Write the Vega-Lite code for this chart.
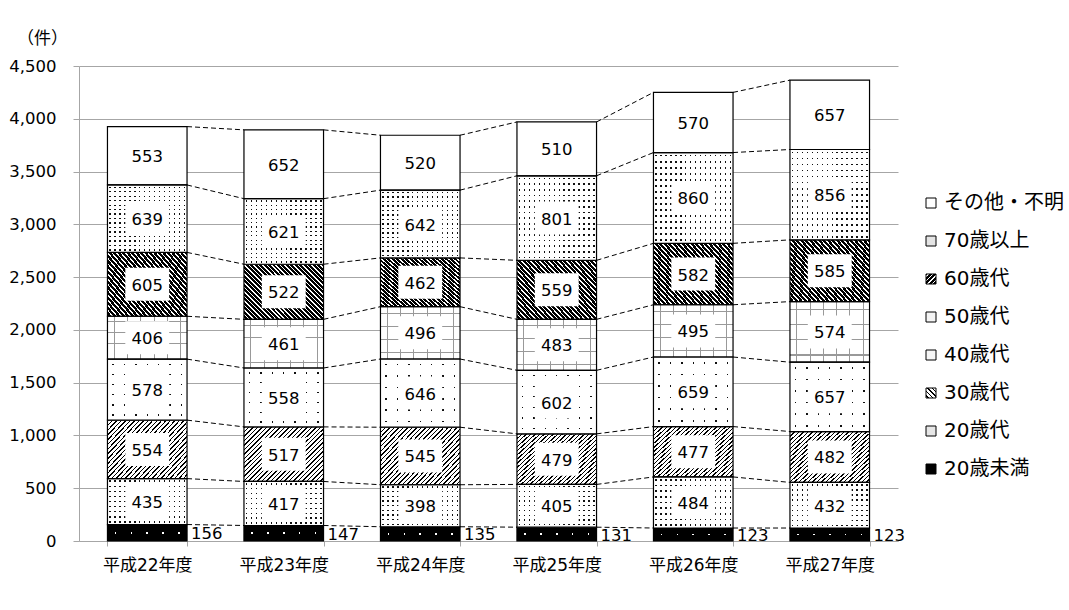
{
  "$schema": "https://vega.github.io/schema/vega-lite/v6.json",
  "width": 819,
  "height": 475,
  "autosize": {"type": "none"},
  "padding": {"left": 79, "top": 66, "right": 171, "bottom": 69},
  "background": "white",
  "config": {
    "font": "DejaVu Sans, Noto Sans CJK JP",
    "view": {"stroke": null},
    "axis": {"labelColor": "black", "titleColor": "black"}
  },
  "params": [
    {"name": "p30", "expr": "{gradient:'linear',x1:0,y1:0,x2:1.145,y2:0.79,stops:[{offset:0,color:'#000'},{offset:0.011,color:'#000'},{offset:0.011,color:'#fff'},{offset:0.0333,color:'#fff'},{offset:0.0333,color:'#000'},{offset:0.0443,color:'#000'},{offset:0.0443,color:'#fff'},{offset:0.0667,color:'#fff'},{offset:0.0667,color:'#000'},{offset:0.0777,color:'#000'},{offset:0.0777,color:'#fff'},{offset:0.1,color:'#fff'},{offset:0.1,color:'#000'},{offset:0.111,color:'#000'},{offset:0.111,color:'#fff'},{offset:0.1333,color:'#fff'},{offset:0.1333,color:'#000'},{offset:0.1443,color:'#000'},{offset:0.1443,color:'#fff'},{offset:0.1667,color:'#fff'},{offset:0.1667,color:'#000'},{offset:0.1777,color:'#000'},{offset:0.1777,color:'#fff'},{offset:0.2,color:'#fff'},{offset:0.2,color:'#000'},{offset:0.211,color:'#000'},{offset:0.211,color:'#fff'},{offset:0.2333,color:'#fff'},{offset:0.2333,color:'#000'},{offset:0.2443,color:'#000'},{offset:0.2443,color:'#fff'},{offset:0.2667,color:'#fff'},{offset:0.2667,color:'#000'},{offset:0.2777,color:'#000'},{offset:0.2777,color:'#fff'},{offset:0.3,color:'#fff'},{offset:0.3,color:'#000'},{offset:0.311,color:'#000'},{offset:0.311,color:'#fff'},{offset:0.3333,color:'#fff'},{offset:0.3333,color:'#000'},{offset:0.3443,color:'#000'},{offset:0.3443,color:'#fff'},{offset:0.3667,color:'#fff'},{offset:0.3667,color:'#000'},{offset:0.3777,color:'#000'},{offset:0.3777,color:'#fff'},{offset:0.4,color:'#fff'},{offset:0.4,color:'#000'},{offset:0.411,color:'#000'},{offset:0.411,color:'#fff'},{offset:0.4333,color:'#fff'},{offset:0.4333,color:'#000'},{offset:0.4443,color:'#000'},{offset:0.4443,color:'#fff'},{offset:0.4667,color:'#fff'},{offset:0.4667,color:'#000'},{offset:0.4777,color:'#000'},{offset:0.4777,color:'#fff'},{offset:0.5,color:'#fff'},{offset:0.5,color:'#000'},{offset:0.511,color:'#000'},{offset:0.511,color:'#fff'},{offset:0.5333,color:'#fff'},{offset:0.5333,color:'#000'},{offset:0.5443,color:'#000'},{offset:0.5443,color:'#fff'},{offset:0.5667,color:'#fff'},{offset:0.5667,color:'#000'},{offset:0.5777,color:'#000'},{offset:0.5777,color:'#fff'},{offset:0.6,color:'#fff'},{offset:0.6,color:'#000'},{offset:0.611,color:'#000'},{offset:0.611,color:'#fff'},{offset:0.6333,color:'#fff'},{offset:0.6333,color:'#000'},{offset:0.6443,color:'#000'},{offset:0.6443,color:'#fff'},{offset:0.6667,color:'#fff'},{offset:0.6667,color:'#000'},{offset:0.6777,color:'#000'},{offset:0.6777,color:'#fff'},{offset:0.7,color:'#fff'},{offset:0.7,color:'#000'},{offset:0.711,color:'#000'},{offset:0.711,color:'#fff'},{offset:0.7333,color:'#fff'},{offset:0.7333,color:'#000'},{offset:0.7443,color:'#000'},{offset:0.7443,color:'#fff'},{offset:0.7667,color:'#fff'},{offset:0.7667,color:'#000'},{offset:0.7777,color:'#000'},{offset:0.7777,color:'#fff'},{offset:0.8,color:'#fff'},{offset:0.8,color:'#000'},{offset:0.811,color:'#000'},{offset:0.811,color:'#fff'},{offset:0.8333,color:'#fff'},{offset:0.8333,color:'#000'},{offset:0.8443,color:'#000'},{offset:0.8443,color:'#fff'},{offset:0.8667,color:'#fff'},{offset:0.8667,color:'#000'},{offset:0.8777,color:'#000'},{offset:0.8777,color:'#fff'},{offset:0.9,color:'#fff'},{offset:0.9,color:'#000'},{offset:0.911,color:'#000'},{offset:0.911,color:'#fff'},{offset:0.9333,color:'#fff'},{offset:0.9333,color:'#000'},{offset:0.9443,color:'#000'},{offset:0.9443,color:'#fff'},{offset:0.9667,color:'#fff'},{offset:0.9667,color:'#000'},{offset:0.9777,color:'#000'},{offset:0.9777,color:'#fff'},{offset:1,color:'#fff'}]}"},
    {"name": "p60", "expr": "{gradient:'linear',x1:1,y1:0,x2:-0.145,y2:0.79,stops:[{offset:0,color:'#000'},{offset:0.022,color:'#000'},{offset:0.022,color:'#fff'},{offset:0.0333,color:'#fff'},{offset:0.0333,color:'#000'},{offset:0.0553,color:'#000'},{offset:0.0553,color:'#fff'},{offset:0.0667,color:'#fff'},{offset:0.0667,color:'#000'},{offset:0.0887,color:'#000'},{offset:0.0887,color:'#fff'},{offset:0.1,color:'#fff'},{offset:0.1,color:'#000'},{offset:0.122,color:'#000'},{offset:0.122,color:'#fff'},{offset:0.1333,color:'#fff'},{offset:0.1333,color:'#000'},{offset:0.1553,color:'#000'},{offset:0.1553,color:'#fff'},{offset:0.1667,color:'#fff'},{offset:0.1667,color:'#000'},{offset:0.1887,color:'#000'},{offset:0.1887,color:'#fff'},{offset:0.2,color:'#fff'},{offset:0.2,color:'#000'},{offset:0.222,color:'#000'},{offset:0.222,color:'#fff'},{offset:0.2333,color:'#fff'},{offset:0.2333,color:'#000'},{offset:0.2553,color:'#000'},{offset:0.2553,color:'#fff'},{offset:0.2667,color:'#fff'},{offset:0.2667,color:'#000'},{offset:0.2887,color:'#000'},{offset:0.2887,color:'#fff'},{offset:0.3,color:'#fff'},{offset:0.3,color:'#000'},{offset:0.322,color:'#000'},{offset:0.322,color:'#fff'},{offset:0.3333,color:'#fff'},{offset:0.3333,color:'#000'},{offset:0.3553,color:'#000'},{offset:0.3553,color:'#fff'},{offset:0.3667,color:'#fff'},{offset:0.3667,color:'#000'},{offset:0.3887,color:'#000'},{offset:0.3887,color:'#fff'},{offset:0.4,color:'#fff'},{offset:0.4,color:'#000'},{offset:0.422,color:'#000'},{offset:0.422,color:'#fff'},{offset:0.4333,color:'#fff'},{offset:0.4333,color:'#000'},{offset:0.4553,color:'#000'},{offset:0.4553,color:'#fff'},{offset:0.4667,color:'#fff'},{offset:0.4667,color:'#000'},{offset:0.4887,color:'#000'},{offset:0.4887,color:'#fff'},{offset:0.5,color:'#fff'},{offset:0.5,color:'#000'},{offset:0.522,color:'#000'},{offset:0.522,color:'#fff'},{offset:0.5333,color:'#fff'},{offset:0.5333,color:'#000'},{offset:0.5553,color:'#000'},{offset:0.5553,color:'#fff'},{offset:0.5667,color:'#fff'},{offset:0.5667,color:'#000'},{offset:0.5887,color:'#000'},{offset:0.5887,color:'#fff'},{offset:0.6,color:'#fff'},{offset:0.6,color:'#000'},{offset:0.622,color:'#000'},{offset:0.622,color:'#fff'},{offset:0.6333,color:'#fff'},{offset:0.6333,color:'#000'},{offset:0.6553,color:'#000'},{offset:0.6553,color:'#fff'},{offset:0.6667,color:'#fff'},{offset:0.6667,color:'#000'},{offset:0.6887,color:'#000'},{offset:0.6887,color:'#fff'},{offset:0.7,color:'#fff'},{offset:0.7,color:'#000'},{offset:0.722,color:'#000'},{offset:0.722,color:'#fff'},{offset:0.7333,color:'#fff'},{offset:0.7333,color:'#000'},{offset:0.7553,color:'#000'},{offset:0.7553,color:'#fff'},{offset:0.7667,color:'#fff'},{offset:0.7667,color:'#000'},{offset:0.7887,color:'#000'},{offset:0.7887,color:'#fff'},{offset:0.8,color:'#fff'},{offset:0.8,color:'#000'},{offset:0.822,color:'#000'},{offset:0.822,color:'#fff'},{offset:0.8333,color:'#fff'},{offset:0.8333,color:'#000'},{offset:0.8553,color:'#000'},{offset:0.8553,color:'#fff'},{offset:0.8667,color:'#fff'},{offset:0.8667,color:'#000'},{offset:0.8887,color:'#000'},{offset:0.8887,color:'#fff'},{offset:0.9,color:'#fff'},{offset:0.9,color:'#000'},{offset:0.922,color:'#000'},{offset:0.922,color:'#fff'},{offset:0.9333,color:'#fff'},{offset:0.9333,color:'#000'},{offset:0.9553,color:'#000'},{offset:0.9553,color:'#fff'},{offset:0.9667,color:'#fff'},{offset:0.9667,color:'#000'},{offset:0.9887,color:'#000'},{offset:0.9887,color:'#fff'},{offset:1,color:'#fff'}]}"},
    {"name": "gV16", "expr": "{gradient:'linear',x1:0,y1:0,x2:1,y2:0,stops:[{offset:0,color:'#fff'},{offset:0.022,color:'#fff'},{offset:0.022,color:'#111'},{offset:0.04,color:'#111'},{offset:0.04,color:'#fff'},{offset:0.0845,color:'#fff'},{offset:0.0845,color:'#111'},{offset:0.1025,color:'#111'},{offset:0.1025,color:'#fff'},{offset:0.147,color:'#fff'},{offset:0.147,color:'#111'},{offset:0.165,color:'#111'},{offset:0.165,color:'#fff'},{offset:0.2095,color:'#fff'},{offset:0.2095,color:'#111'},{offset:0.2275,color:'#111'},{offset:0.2275,color:'#fff'},{offset:0.272,color:'#fff'},{offset:0.272,color:'#111'},{offset:0.29,color:'#111'},{offset:0.29,color:'#fff'},{offset:0.3345,color:'#fff'},{offset:0.3345,color:'#111'},{offset:0.3525,color:'#111'},{offset:0.3525,color:'#fff'},{offset:0.397,color:'#fff'},{offset:0.397,color:'#111'},{offset:0.415,color:'#111'},{offset:0.415,color:'#fff'},{offset:0.4595,color:'#fff'},{offset:0.4595,color:'#111'},{offset:0.4775,color:'#111'},{offset:0.4775,color:'#fff'},{offset:0.522,color:'#fff'},{offset:0.522,color:'#111'},{offset:0.54,color:'#111'},{offset:0.54,color:'#fff'},{offset:0.5845,color:'#fff'},{offset:0.5845,color:'#111'},{offset:0.6025,color:'#111'},{offset:0.6025,color:'#fff'},{offset:0.647,color:'#fff'},{offset:0.647,color:'#111'},{offset:0.665,color:'#111'},{offset:0.665,color:'#fff'},{offset:0.7095,color:'#fff'},{offset:0.7095,color:'#111'},{offset:0.7275,color:'#111'},{offset:0.7275,color:'#fff'},{offset:0.772,color:'#fff'},{offset:0.772,color:'#111'},{offset:0.79,color:'#111'},{offset:0.79,color:'#fff'},{offset:0.8345,color:'#fff'},{offset:0.8345,color:'#111'},{offset:0.8525,color:'#111'},{offset:0.8525,color:'#fff'},{offset:0.897,color:'#fff'},{offset:0.897,color:'#111'},{offset:0.915,color:'#111'},{offset:0.915,color:'#fff'},{offset:0.9595,color:'#fff'},{offset:0.9595,color:'#111'},{offset:0.9775,color:'#111'},{offset:0.9775,color:'#fff'},{offset:1,color:'#fff'}]}"},
    {"name": "gH9", "expr": "{gradient:'linear',x1:0,y1:0,x2:0,y2:1,stops:[{offset:0,color:'#fff'},{offset:0.04,color:'#fff'},{offset:0.04,color:'rgba(255,255,255,0)'},{offset:0.07,color:'rgba(255,255,255,0)'},{offset:0.07,color:'#fff'},{offset:0.1511,color:'#fff'},{offset:0.1511,color:'rgba(255,255,255,0)'},{offset:0.1811,color:'rgba(255,255,255,0)'},{offset:0.1811,color:'#fff'},{offset:0.2622,color:'#fff'},{offset:0.2622,color:'rgba(255,255,255,0)'},{offset:0.2922,color:'rgba(255,255,255,0)'},{offset:0.2922,color:'#fff'},{offset:0.3733,color:'#fff'},{offset:0.3733,color:'rgba(255,255,255,0)'},{offset:0.4033,color:'rgba(255,255,255,0)'},{offset:0.4033,color:'#fff'},{offset:0.4844,color:'#fff'},{offset:0.4844,color:'rgba(255,255,255,0)'},{offset:0.5144,color:'rgba(255,255,255,0)'},{offset:0.5144,color:'#fff'},{offset:0.5956,color:'#fff'},{offset:0.5956,color:'rgba(255,255,255,0)'},{offset:0.6256,color:'rgba(255,255,255,0)'},{offset:0.6256,color:'#fff'},{offset:0.7067,color:'#fff'},{offset:0.7067,color:'rgba(255,255,255,0)'},{offset:0.7367,color:'rgba(255,255,255,0)'},{offset:0.7367,color:'#fff'},{offset:0.8178,color:'#fff'},{offset:0.8178,color:'rgba(255,255,255,0)'},{offset:0.8478,color:'rgba(255,255,255,0)'},{offset:0.8478,color:'#fff'},{offset:0.9289,color:'#fff'},{offset:0.9289,color:'rgba(255,255,255,0)'},{offset:0.9589,color:'rgba(255,255,255,0)'},{offset:0.9589,color:'#fff'},{offset:1,color:'#fff'}]}"},
    {"name": "gH15", "expr": "{gradient:'linear',x1:0,y1:0,x2:0,y2:1,stops:[{offset:0,color:'#fff'},{offset:0.023,color:'#fff'},{offset:0.023,color:'rgba(255,255,255,0)'},{offset:0.043,color:'rgba(255,255,255,0)'},{offset:0.043,color:'#fff'},{offset:0.0897,color:'#fff'},{offset:0.0897,color:'rgba(255,255,255,0)'},{offset:0.1097,color:'rgba(255,255,255,0)'},{offset:0.1097,color:'#fff'},{offset:0.1563,color:'#fff'},{offset:0.1563,color:'rgba(255,255,255,0)'},{offset:0.1763,color:'rgba(255,255,255,0)'},{offset:0.1763,color:'#fff'},{offset:0.223,color:'#fff'},{offset:0.223,color:'rgba(255,255,255,0)'},{offset:0.243,color:'rgba(255,255,255,0)'},{offset:0.243,color:'#fff'},{offset:0.2897,color:'#fff'},{offset:0.2897,color:'rgba(255,255,255,0)'},{offset:0.3097,color:'rgba(255,255,255,0)'},{offset:0.3097,color:'#fff'},{offset:0.3563,color:'#fff'},{offset:0.3563,color:'rgba(255,255,255,0)'},{offset:0.3763,color:'rgba(255,255,255,0)'},{offset:0.3763,color:'#fff'},{offset:0.423,color:'#fff'},{offset:0.423,color:'rgba(255,255,255,0)'},{offset:0.443,color:'rgba(255,255,255,0)'},{offset:0.443,color:'#fff'},{offset:0.4897,color:'#fff'},{offset:0.4897,color:'rgba(255,255,255,0)'},{offset:0.5097,color:'rgba(255,255,255,0)'},{offset:0.5097,color:'#fff'},{offset:0.5563,color:'#fff'},{offset:0.5563,color:'rgba(255,255,255,0)'},{offset:0.5763,color:'rgba(255,255,255,0)'},{offset:0.5763,color:'#fff'},{offset:0.623,color:'#fff'},{offset:0.623,color:'rgba(255,255,255,0)'},{offset:0.643,color:'rgba(255,255,255,0)'},{offset:0.643,color:'#fff'},{offset:0.6897,color:'#fff'},{offset:0.6897,color:'rgba(255,255,255,0)'},{offset:0.7097,color:'rgba(255,255,255,0)'},{offset:0.7097,color:'#fff'},{offset:0.7563,color:'#fff'},{offset:0.7563,color:'rgba(255,255,255,0)'},{offset:0.7763,color:'rgba(255,255,255,0)'},{offset:0.7763,color:'#fff'},{offset:0.823,color:'#fff'},{offset:0.823,color:'rgba(255,255,255,0)'},{offset:0.843,color:'rgba(255,255,255,0)'},{offset:0.843,color:'#fff'},{offset:0.8897,color:'#fff'},{offset:0.8897,color:'rgba(255,255,255,0)'},{offset:0.9097,color:'rgba(255,255,255,0)'},{offset:0.9097,color:'#fff'},{offset:0.9563,color:'#fff'},{offset:0.9563,color:'rgba(255,255,255,0)'},{offset:0.9763,color:'rgba(255,255,255,0)'},{offset:0.9763,color:'#fff'},{offset:1,color:'#fff'}]}"},
    {"name": "gV7", "expr": "{gradient:'linear',x1:0,y1:0,x2:1,y2:0,stops:[{offset:0,color:'#fff'},{offset:0.0624,color:'#fff'},{offset:0.0624,color:'#111'},{offset:0.0804,color:'#111'},{offset:0.0804,color:'#fff'},{offset:0.2053,color:'#fff'},{offset:0.2053,color:'#111'},{offset:0.2233,color:'#111'},{offset:0.2233,color:'#fff'},{offset:0.3481,color:'#fff'},{offset:0.3481,color:'#111'},{offset:0.3661,color:'#111'},{offset:0.3661,color:'#fff'},{offset:0.491,color:'#fff'},{offset:0.491,color:'#111'},{offset:0.509,color:'#111'},{offset:0.509,color:'#fff'},{offset:0.6339,color:'#fff'},{offset:0.6339,color:'#111'},{offset:0.6519,color:'#111'},{offset:0.6519,color:'#fff'},{offset:0.7767,color:'#fff'},{offset:0.7767,color:'#111'},{offset:0.7947,color:'#111'},{offset:0.7947,color:'#fff'},{offset:0.9196,color:'#fff'},{offset:0.9196,color:'#111'},{offset:0.9376,color:'#111'},{offset:0.9376,color:'#fff'},{offset:1,color:'#fff'}]}"},
    {"name": "gH6", "expr": "{gradient:'linear',x1:0,y1:0,x2:0,y2:1,stops:[{offset:0,color:'#fff'},{offset:0.0723,color:'#fff'},{offset:0.0723,color:'rgba(255,255,255,0)'},{offset:0.0943,color:'rgba(255,255,255,0)'},{offset:0.0943,color:'#fff'},{offset:0.239,color:'#fff'},{offset:0.239,color:'rgba(255,255,255,0)'},{offset:0.261,color:'rgba(255,255,255,0)'},{offset:0.261,color:'#fff'},{offset:0.4057,color:'#fff'},{offset:0.4057,color:'rgba(255,255,255,0)'},{offset:0.4277,color:'rgba(255,255,255,0)'},{offset:0.4277,color:'#fff'},{offset:0.5723,color:'#fff'},{offset:0.5723,color:'rgba(255,255,255,0)'},{offset:0.5943,color:'rgba(255,255,255,0)'},{offset:0.5943,color:'#fff'},{offset:0.739,color:'#fff'},{offset:0.739,color:'rgba(255,255,255,0)'},{offset:0.761,color:'rgba(255,255,255,0)'},{offset:0.761,color:'#fff'},{offset:0.9057,color:'#fff'},{offset:0.9057,color:'rgba(255,255,255,0)'},{offset:0.9277,color:'rgba(255,255,255,0)'},{offset:0.9277,color:'#fff'},{offset:1,color:'#fff'}]}"},
    {"name": "gV5k", "expr": "{gradient:'linear',x1:0,y1:0,x2:1,y2:0,stops:[{offset:0,color:'#000'},{offset:0.09,color:'#000'},{offset:0.09,color:'#fff'},{offset:0.11,color:'#fff'},{offset:0.11,color:'#000'},{offset:0.29,color:'#000'},{offset:0.29,color:'#fff'},{offset:0.31,color:'#fff'},{offset:0.31,color:'#000'},{offset:0.49,color:'#000'},{offset:0.49,color:'#fff'},{offset:0.51,color:'#fff'},{offset:0.51,color:'#000'},{offset:0.69,color:'#000'},{offset:0.69,color:'#fff'},{offset:0.71,color:'#fff'},{offset:0.71,color:'#000'},{offset:0.89,color:'#000'},{offset:0.89,color:'#fff'},{offset:0.91,color:'#fff'},{offset:0.91,color:'#000'},{offset:1,color:'#000'}]}"},
    {"name": "gH1k", "expr": "{gradient:'linear',x1:0,y1:0,x2:0,y2:1,stops:[{offset:0,color:'#000'},{offset:0.44,color:'#000'},{offset:0.44,color:'rgba(0,0,0,0)'},{offset:0.56,color:'rgba(0,0,0,0)'},{offset:0.56,color:'#000'},{offset:1,color:'#000'}]}"},
    {"name": "g50V", "expr": "{gradient:'linear',x1:0,y1:0,x2:1,y2:0,stops:[{offset:0,color:'#fff'},{offset:0.08,color:'#fff'},{offset:0.08,color:'#999'},{offset:0.093,color:'#999'},{offset:0.093,color:'#fff'},{offset:0.247,color:'#fff'},{offset:0.247,color:'#999'},{offset:0.26,color:'#999'},{offset:0.26,color:'#fff'},{offset:0.413,color:'#fff'},{offset:0.413,color:'#999'},{offset:0.426,color:'#999'},{offset:0.426,color:'#fff'},{offset:0.58,color:'#fff'},{offset:0.58,color:'#999'},{offset:0.593,color:'#999'},{offset:0.593,color:'#fff'},{offset:0.747,color:'#fff'},{offset:0.747,color:'#999'},{offset:0.76,color:'#999'},{offset:0.76,color:'#fff'},{offset:0.913,color:'#fff'},{offset:0.913,color:'#999'},{offset:0.926,color:'#999'},{offset:0.926,color:'#fff'},{offset:1,color:'#fff'}]}"},
    {"name": "g50H", "expr": "{gradient:'linear',x1:0,y1:0,x2:0,y2:1,stops:[{offset:0,color:'rgba(153,153,153,0)'},{offset:0.12,color:'rgba(153,153,153,0)'},{offset:0.12,color:'#999'},{offset:0.14,color:'#999'},{offset:0.14,color:'rgba(153,153,153,0)'},{offset:0.37,color:'rgba(153,153,153,0)'},{offset:0.37,color:'#999'},{offset:0.39,color:'#999'},{offset:0.39,color:'rgba(153,153,153,0)'},{offset:0.62,color:'rgba(153,153,153,0)'},{offset:0.62,color:'#999'},{offset:0.64,color:'#999'},{offset:0.64,color:'rgba(153,153,153,0)'},{offset:0.87,color:'rgba(153,153,153,0)'},{offset:0.87,color:'#999'},{offset:0.89,color:'#999'},{offset:0.89,color:'rgba(153,153,153,0)'},{offset:1,color:'rgba(153,153,153,0)'}]}"}
  ],
  "data": {
    "values": [
      {"year": "平成22年度", "age": "20歳未満", "rank": 1, "count": 156},
      {"year": "平成22年度", "age": "20歳代", "rank": 2, "count": 435},
      {"year": "平成22年度", "age": "30歳代", "rank": 3, "count": 554},
      {"year": "平成22年度", "age": "40歳代", "rank": 4, "count": 578},
      {"year": "平成22年度", "age": "50歳代", "rank": 5, "count": 406},
      {"year": "平成22年度", "age": "60歳代", "rank": 6, "count": 605},
      {"year": "平成22年度", "age": "70歳以上", "rank": 7, "count": 639},
      {"year": "平成22年度", "age": "その他・不明", "rank": 8, "count": 553},
      {"year": "平成23年度", "age": "20歳未満", "rank": 1, "count": 147},
      {"year": "平成23年度", "age": "20歳代", "rank": 2, "count": 417},
      {"year": "平成23年度", "age": "30歳代", "rank": 3, "count": 517},
      {"year": "平成23年度", "age": "40歳代", "rank": 4, "count": 558},
      {"year": "平成23年度", "age": "50歳代", "rank": 5, "count": 461},
      {"year": "平成23年度", "age": "60歳代", "rank": 6, "count": 522},
      {"year": "平成23年度", "age": "70歳以上", "rank": 7, "count": 621},
      {"year": "平成23年度", "age": "その他・不明", "rank": 8, "count": 652},
      {"year": "平成24年度", "age": "20歳未満", "rank": 1, "count": 135},
      {"year": "平成24年度", "age": "20歳代", "rank": 2, "count": 398},
      {"year": "平成24年度", "age": "30歳代", "rank": 3, "count": 545},
      {"year": "平成24年度", "age": "40歳代", "rank": 4, "count": 646},
      {"year": "平成24年度", "age": "50歳代", "rank": 5, "count": 496},
      {"year": "平成24年度", "age": "60歳代", "rank": 6, "count": 462},
      {"year": "平成24年度", "age": "70歳以上", "rank": 7, "count": 642},
      {"year": "平成24年度", "age": "その他・不明", "rank": 8, "count": 520},
      {"year": "平成25年度", "age": "20歳未満", "rank": 1, "count": 131},
      {"year": "平成25年度", "age": "20歳代", "rank": 2, "count": 405},
      {"year": "平成25年度", "age": "30歳代", "rank": 3, "count": 479},
      {"year": "平成25年度", "age": "40歳代", "rank": 4, "count": 602},
      {"year": "平成25年度", "age": "50歳代", "rank": 5, "count": 483},
      {"year": "平成25年度", "age": "60歳代", "rank": 6, "count": 559},
      {"year": "平成25年度", "age": "70歳以上", "rank": 7, "count": 801},
      {"year": "平成25年度", "age": "その他・不明", "rank": 8, "count": 510},
      {"year": "平成26年度", "age": "20歳未満", "rank": 1, "count": 123},
      {"year": "平成26年度", "age": "20歳代", "rank": 2, "count": 484},
      {"year": "平成26年度", "age": "30歳代", "rank": 3, "count": 477},
      {"year": "平成26年度", "age": "40歳代", "rank": 4, "count": 659},
      {"year": "平成26年度", "age": "50歳代", "rank": 5, "count": 495},
      {"year": "平成26年度", "age": "60歳代", "rank": 6, "count": 582},
      {"year": "平成26年度", "age": "70歳以上", "rank": 7, "count": 860},
      {"year": "平成26年度", "age": "その他・不明", "rank": 8, "count": 570},
      {"year": "平成27年度", "age": "20歳未満", "rank": 1, "count": 123},
      {"year": "平成27年度", "age": "20歳代", "rank": 2, "count": 432},
      {"year": "平成27年度", "age": "30歳代", "rank": 3, "count": 482},
      {"year": "平成27年度", "age": "40歳代", "rank": 4, "count": 657},
      {"year": "平成27年度", "age": "50歳代", "rank": 5, "count": 574},
      {"year": "平成27年度", "age": "60歳代", "rank": 6, "count": 585},
      {"year": "平成27年度", "age": "70歳以上", "rank": 7, "count": 856},
      {"year": "平成27年度", "age": "その他・不明", "rank": 8, "count": 657}
    ]
  },
  "transform": [
    {"stack": "count", "groupby": ["year"], "sort": [{"field": "rank", "order": "ascending"}], "as": ["y0", "y1"]},
    {"calculate": "(datum.y0 + datum.y1) / 2", "as": "mid"}
  ],
  "encoding": {
    "x": {
      "field": "year",
      "type": "nominal",
      "title": null,
      "scale": {"paddingInner": 0.417, "paddingOuter": 0.2085},
      "axis": {
        "labelAngle": 0,
        "labelFontSize": 17,
        "labelPadding": 11,
        "tickBand": "extent",
        "tickSize": 5,
        "tickColor": "#a6a6a6",
        "domainColor": "#a6a6a6",
        "grid": false
      }
    }
  },
  "resolve": {"scale": {"fill": "independent"}},
  "layer": [
    {
      "transform": [
        {"window": [{"op": "lead", "field": "y1", "as": "ny1"}, {"op": "lead", "field": "year", "as": "nyear"}], "groupby": ["age"], "sort": [{"field": "year", "order": "ascending"}]},
        {"filter": "datum.nyear != null"}
      ],
      "mark": {"type": "rule", "color": "black", "strokeWidth": 1, "strokeDash": [5, 3]},
      "encoding": {
        "x": {"field": "year", "type": "nominal", "title": null, "bandPosition": 1},
        "x2": {"field": "nyear", "bandPosition": 0},
        "y": {"field": "y1", "type": "quantitative", "title": "（件）"},
        "y2": {"field": "ny1"}
      }
    },
    {
      "mark": {"type": "bar"},
      "encoding": {
        "y": {
          "field": "y0",
          "type": "quantitative",
          "title": "（件）",
          "scale": {"domain": [0, 4500], "nice": false},
          "axis": {
            "values": [0, 500, 1000, 1500, 2000, 2500, 3000, 3500, 4000, 4500],
            "format": ",d",
            "labelFontSize": 16.5,
            "labelPadding": 17,
            "tickSize": 6,
            "tickColor": "#a6a6a6",
            "domainColor": "#a6a6a6",
            "grid": true,
            "gridColor": "#a6a6a6",
            "gridWidth": 1,
            "titleAngle": 0,
            "titleFontSize": 17,
            "titleFontWeight": "normal",
            "titleAlign": "center",
            "titleBaseline": "middle",
            "titleX": -37,
            "titleY": -28
          }
        },
        "y2": {"field": "y1"},
        "fill": {
          "field": "age",
          "type": "nominal",
          "scale": {
            "domain": ["その他・不明", "70歳以上", "60歳代", "50歳代", "40歳代", "30歳代", "20歳代", "20歳未満"],
            "range": ["#ffffff", "#e4e4e4", {"expr": "p60"}, "#f4f4f4", "#f6f6f6", {"expr": "p30"}, "#e6e6e6", "#000000"]
          },
          "legend": {
            "title": null,
            "orient": "none",
            "legendX": 842,
            "legendY": 127,
            "symbolType": "square",
            "symbolSize": 100,
            "symbolStrokeColor": "black",
            "symbolStrokeWidth": 1,
            "labelFontSize": 20,
            "labelColor": "black",
            "labelOffset": 3,
            "rowPadding": 18,
            "padding": 0
          }
        }
      }
    },
    {
      "mark": {"type": "bar"},
      "encoding": {
        "y": {"field": "y0", "type": "quantitative", "title": "（件）"},
        "y2": {"field": "y1"},
        "fill": {
          "field": "age",
          "type": "nominal",
          "scale": {
            "domain": ["その他・不明", "70歳以上", "60歳代", "50歳代", "40歳代", "30歳代", "20歳代", "20歳未満"],
            "range": ["transparent", {"expr": "gV16"}, "transparent", {"expr": "g50V"}, {"expr": "gV7"}, "transparent", {"expr": "gV16"}, {"expr": "gV5k"}]
          },
          "legend": null
        }
      }
    },
    {
      "mark": {"type": "bar", "stroke": "black", "strokeWidth": 1.2},
      "encoding": {
        "y": {"field": "y0", "type": "quantitative", "title": "（件）"},
        "y2": {"field": "y1"},
        "fill": {
          "field": "age",
          "type": "nominal",
          "scale": {
            "domain": ["その他・不明", "70歳以上", "60歳代", "50歳代", "40歳代", "30歳代", "20歳代", "20歳未満"],
            "range": ["transparent", {"expr": "gH15"}, "transparent", {"expr": "g50H"}, {"expr": "gH6"}, "transparent", {"expr": "gH9"}, {"expr": "gH1k"}]
          },
          "legend": null
        }
      }
    },
    {
      "transform": [{"filter": "datum.age !== '20歳未満'"}],
      "mark": {"type": "point", "shape": "M-1.33,-1H1.33V1H-1.33Z", "filled": true, "fill": "white", "opacity": 1, "strokeWidth": 0, "size": 1089},
      "encoding": {
        "y": {"field": "mid", "type": "quantitative", "title": "（件）"}
      }
    },
    {
      "transform": [{"filter": "datum.age !== '20歳未満'"}],
      "mark": {"type": "text", "fontSize": 16.5, "color": "black", "baseline": "middle", "dy": 1.5},
      "encoding": {
        "y": {"field": "mid", "type": "quantitative", "title": "（件）"},
        "text": {"field": "count", "type": "quantitative"}
      }
    },
    {
      "transform": [{"filter": "datum.age === '20歳未満'"}],
      "mark": {"type": "text", "fontSize": 16.5, "color": "black", "baseline": "middle", "align": "left", "dx": 4, "dy": 1.5},
      "encoding": {
        "x": {"field": "year", "type": "nominal", "title": null, "bandPosition": 1},
        "y": {"field": "mid", "type": "quantitative", "title": "（件）"},
        "text": {"field": "count", "type": "quantitative"}
      }
    }
  ]
}
